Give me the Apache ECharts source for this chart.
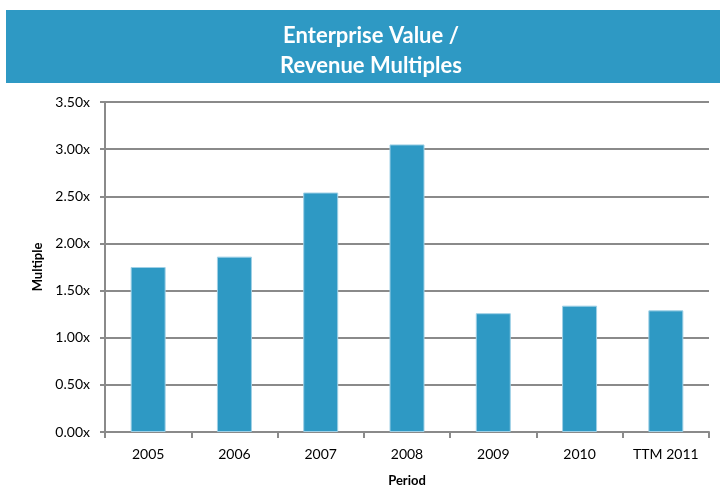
<!DOCTYPE html>
<html>
<head>
<meta charset="utf-8">
<script src="https://cdn.jsdelivr.net/npm/echarts@6/dist/echarts.min.js"></script>
<style>
  html, body { margin: 0; padding: 0; background: #fff; }
  #chart { width: 720px; height: 487px; }
</style>
</head>
<body>
<div id="chart"></div>
<script>
// 数据
const periods = ['2005', '2006', '2007', '2008', '2009', '2010', 'TTM 2011'];
const multiples = [1.75, 1.86, 2.54, 3.05, 1.26, 1.34, 1.29];
const titleLines = ['Enterprise Value /', 'Revenue Multiples'];

const BLUE = '#2E99C4';
const GRID_GREY = '#8a8a8a';
const FONT = 'Lato, "Open Sans", sans-serif';

const chart = echarts.init(document.getElementById('chart'));

const option = {
    animation: false,
    textStyle: { fontFamily: FONT },
    graphic: [
        {
            type: 'rect',
            z: 0,
            shape: { x: 6, y: 10, width: 714, height: 73 },
            style: { fill: BLUE }
        }
    ],
    title: {
        text: titleLines.join('\n'),
        left: 366,
        textAlign: 'center',
        top: 16,
        z: 10,
        textStyle: {
            color: '#fff',
            fontSize: 22,
            fontWeight: 'bold',
            lineHeight: 30,
            fontFamily: FONT
        }
    },
    grid: { left: 105, right: 11, top: 102, bottom: 55, outerBoundsMode: 'none' },
    xAxis: {
        type: 'category',
        data: periods,
        name: 'Period',
        nameLocation: 'middle',
        nameGap: 42,
        nameTextStyle: { fontSize: 13, fontWeight: 'bold', color: '#000' },
        axisLine: { lineStyle: { color: GRID_GREY, width: 2 } },
        axisTick: { show: true, length: 6, lineStyle: { color: GRID_GREY, width: 2 } },
        axisLabel: { color: '#000', fontSize: 14, margin: 15 }
    },
    yAxis: {
        type: 'value',
        min: 0,
        max: 3.5,
        interval: 0.5,
        name: 'Multiple',
        nameLocation: 'middle',
        nameGap: 59,
        nameTextStyle: { fontSize: 13, fontWeight: 'bold', color: '#000' },
        axisLine: { show: true, lineStyle: { color: GRID_GREY, width: 2 } },
        axisTick: { show: true, length: 5, lineStyle: { color: GRID_GREY, width: 2 } },
        axisLabel: {
            color: '#000',
            fontSize: 14,
            margin: 15,
            formatter: v => v.toFixed(2) + 'x'
        },
        splitLine: { show: true, lineStyle: { color: GRID_GREY, width: 2 } }
    },
    series: [
        {
            name: 'EV / Revenue',
            type: 'bar',
            data: multiples,
            barWidth: 35,
            itemStyle: { color: BLUE, borderColor: '#9fd0e6', borderWidth: 1 }
        }
    ]
};

chart.setOption(option);
</script>
</body>
</html>
